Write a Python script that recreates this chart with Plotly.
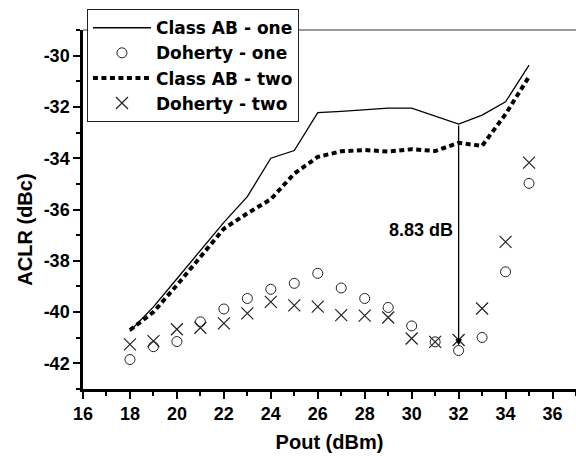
import plotly.graph_objects as go

pout = [18, 19, 20, 21, 22, 23, 24, 25, 26, 27, 28, 29, 30, 31, 32, 33, 34, 35]
class_ab_one = [-40.75, -39.8, -38.7, -37.6, -36.5, -35.5, -34.0, -33.7, -32.22, -32.17,
                -32.12, -32.05, -32.05, -32.36, -32.67, -32.32, -31.8, -30.37]
doherty_one = [-41.85, -41.35, -41.15, -40.38, -39.88, -39.47, -39.11, -38.88, -38.49, -39.06,
               -39.47, -39.82, -40.54, -41.16, -41.50, -40.99, -38.43, -34.98]
class_ab_two = [-40.7, -40.0, -38.95, -37.85, -36.75, -36.15, -35.6, -34.6, -33.95, -33.73,
                -33.68, -33.74, -33.65, -33.72, -33.4, -33.52, -32.28, -30.82]
doherty_two = [-41.26, -41.13, -40.67, -40.61, -40.44, -40.05, -39.6, -39.74, -39.79, -40.12,
               -40.14, -40.21, -41.03, -41.16, -41.09, -39.86, -37.26, -34.17]

x_tick_vals = [16, 18, 20, 22, 24, 26, 28, 30, 32, 34, 36]
x_tick_labels = ["16", "18", "20", "22", "24", "26", "28", "30", "32", "34", "36"]
y_tick_vals = [-42, -40, -38, -36, -34, -32, -30]
y_tick_labels = ["-42", "-40", "-38", "-36", "-34", "-32", "-30"]

gap_at = 32
i_gap = pout.index(gap_at)
gap_db = class_ab_one[i_gap] - doherty_one[i_gap]
gap_label_pos = (31.85, -36.8)

FONT = "Liberation Sans, Arial, Helvetica, sans-serif"
LEGFONT = "DejaVu Sans, Liberation Sans, sans-serif"
TICKFONT = dict(family=FONT, size=18, color="black", weight="bold")
TITLEFONT = dict(family=FONT, size=20, color="black", weight="bold")

fig = go.Figure()
fig.add_trace(go.Scatter(x=pout, y=class_ab_one, mode="lines", name="Class AB - one",
                         line=dict(color="black", width=1.3)))
fig.add_trace(go.Scatter(x=pout, y=doherty_one, mode="markers", name="Doherty - one",
                         marker=dict(symbol="circle-open", size=10, color="#222",
                                     line=dict(width=1))))
fig.add_trace(go.Scatter(x=pout, y=class_ab_two, mode="lines", name="Class AB - two",
                         line=dict(color="black", width=4, dash="5px,3.5px")))
fig.add_trace(go.Scatter(x=pout, y=doherty_two, mode="markers", name="Doherty - two",
                         marker=dict(symbol="x-thin-open", size=12, color="#222",
                                     line=dict(width=1.2))))

fig.add_annotation(x=gap_at, y=doherty_one[i_gap], ax=gap_at, ay=class_ab_one[i_gap],
                   xref="x", yref="y", axref="x", ayref="y", text="", showarrow=True,
                   arrowhead=2, arrowsize=1, arrowwidth=1.3, arrowcolor="black", standoff=5)
fig.add_annotation(x=gap_label_pos[0], y=gap_label_pos[1], xref="x", yref="y",
                   text=f"{gap_db:.2f} dB", showarrow=False, xanchor="right", yanchor="middle",
                   font=dict(family=FONT, size=18, color="black", weight="bold"))
# y-axis title (placed slightly below centre, as in the original)
fig.add_annotation(x=-0.1176, y=0.444, xref="paper", yref="paper", text="ACLR (dBc)",
                   textangle=-90, showarrow=False, xanchor="center", yanchor="middle",
                   font=TITLEFONT)

fig.add_shape(type="line", xref="paper", yref="paper", x0=0, x1=1, y0=1, y1=1,
              line=dict(color="#333", width=1))

fig.update_layout(
    width=576, height=456,
    margin=dict(l=83, r=0, t=30, b=67),
    paper_bgcolor="white", plot_bgcolor="white",
    font=dict(family=FONT, color="black"),
    showlegend=True,
    legend=dict(x=0.008, y=1.058, xanchor="left", yanchor="top",
                bgcolor="white", bordercolor="#222", borderwidth=1,
                font=dict(family=LEGFONT, size=17, color="black", weight="bold"),
                itemwidth=58, tracegroupgap=0),
)
fig.update_xaxes(range=[16, 37], tickvals=x_tick_vals, ticktext=x_tick_labels,
                 ticks="outside", ticklen=7, tickwidth=2, tickcolor="black",
                 minor=dict(dtick=1, tick0=16, ticks="outside", ticklen=4, tickwidth=2,
                            tickcolor="black"),
                 showline=True, linewidth=2.5, linecolor="black", showgrid=False,
                 zeroline=False, tickfont=TICKFONT,
                 title=dict(text="Pout (dBm)", standoff=12, font=TITLEFONT))
fig.update_yaxes(range=[-43, -29], tickvals=y_tick_vals, ticktext=y_tick_labels,
                 ticks="outside", ticklen=7, tickwidth=2, tickcolor="black",
                 minor=dict(dtick=1, tick0=-43, ticks="outside", ticklen=4, tickwidth=2,
                            tickcolor="black"),
                 showline=True, linewidth=2.5, linecolor="black", showgrid=False,
                 zeroline=False, tickfont=TICKFONT)

fig.write_html("out.html")
